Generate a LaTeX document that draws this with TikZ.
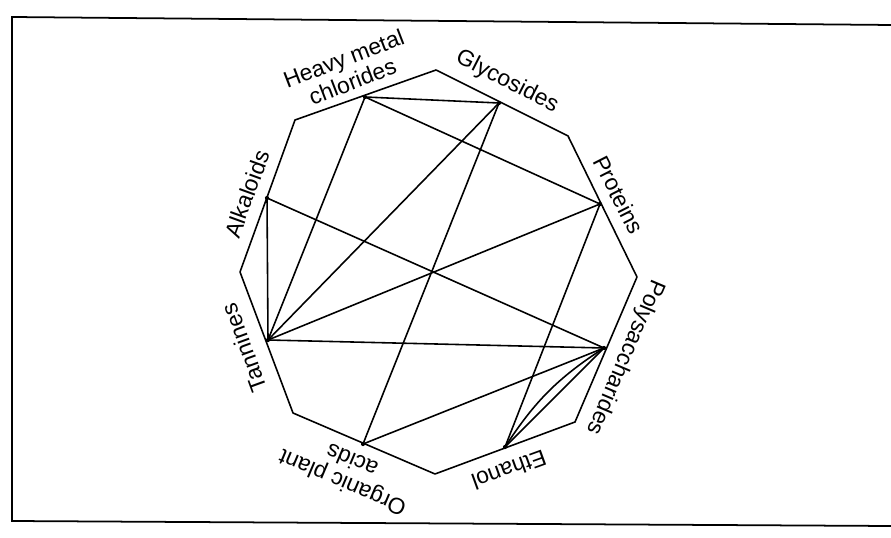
\documentclass[tikz,border=0pt]{standalone}
\usepackage{fontspec}
\setmainfont{Liberation Sans}
\usetikzlibrary{calc}

\begin{document}
\begin{tikzpicture}[x=0.02cm,y=0.02cm,line width=0.9pt,
  lbl/.style={font=\fontsize{13}{14}\selectfont,align=center,inner sep=0pt}]
  \useasboundingbox (0,0) rectangle (891,537);
  % frame of the scanned page
  \draw[line width=1pt] (891,512) -- (12,520) -- (12,16) -- (891,11);
  % octagon
  \draw[line join=round] (436,467) -- (568,401) -- (637,260) -- (575,115)
    -- (435,63) -- (293,124) -- (240,265) -- (295,417) -- cycle;
  % points on the sides
  \coordinate (H) at (365,440);
  \coordinate (G) at (499,434);
  \coordinate (P) at (600,333);
  \coordinate (Pol) at (604,189);
  \coordinate (E) at (505,90);
  \coordinate (O) at (363,93);
  \coordinate (T) at (268,197);
  \coordinate (A) at (267,339);
  % incompatibilities
  \draw (H) -- (G);
  \draw (H) -- (P);
  \draw (H) -- (T);
  \draw (G) -- (T);
  \draw (G) -- (O);
  \draw (P) -- (T);
  \draw (P) -- (E);
  \draw (A) -- (T);
  \draw (A) -- (Pol);
  \draw (T) -- (Pol);
  \draw (Pol) -- (O);
  \draw (E) -- (Pol);
  \draw (E) to[bend left=12] (Pol);
  \foreach \p in {H,G,P,Pol,E,O,T,A}
    \fill (\p) circle (1.2pt);
  % labels
  \node[lbl,rotate=21] (hmc) at (348,467) {Heavy metal\\chlorides};
  \node[lbl,rotate=-27] (gly) at (507,455) {Glycosides};
  \node[lbl,rotate=-63] (pro) at (619,342) {Proteins};
  \node[lbl,rotate=-113] (pol) at (625,180) {Polysaccharides};
  \node[lbl,rotate=200] (eth) at (509,67) {Ethanol};
  \node[lbl,rotate=157] (opa) at (347,65) {Organic plant\\acids};
  \node[lbl,rotate=110] (tan) at (244,189) {Tannines};
  \node[lbl,rotate=70] (alk) at (247,343) {Alkaloids};
\end{tikzpicture}
\end{document}
